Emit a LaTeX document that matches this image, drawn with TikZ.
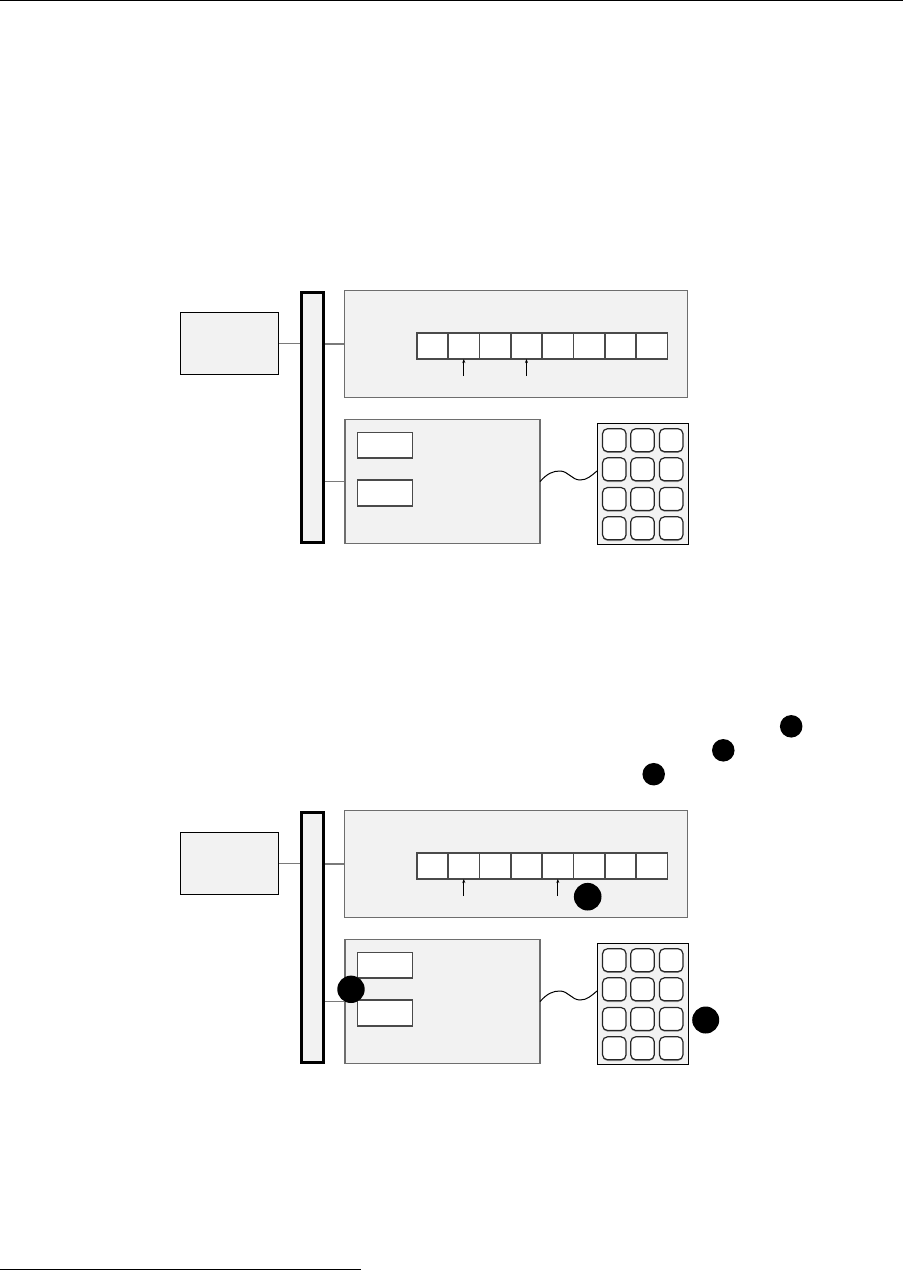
\documentclass[tikz,border=0pt]{standalone}
\usetikzlibrary{shadows,arrows.meta,backgrounds}
\definecolor{panel}{HTML}{F2F2F2}
\definecolor{edgegray}{HTML}{6E6E6E}
\definecolor{cellgray}{HTML}{4A4A4A}
\definecolor{wiregray}{HTML}{7A7A7A}
\tikzset{
  base/.style={inner sep=0pt, outer sep=0pt},
  cpubox/.style={base, draw=black, line width=1.1pt, fill=panel},
  busbar/.style={base, draw=black, line width=3pt, fill=panel},
  panelbox/.style={base, draw=edgegray, line width=1.4pt, fill=panel},
  cellbox/.style={base, draw=cellgray, line width=1.8pt, fill=white, minimum width=31.35pt, minimum height=26pt},
  slotbox/.style={base, draw=cellgray, line width=1.8pt, fill=white, minimum width=55pt, minimum height=25.5pt},
  padbox/.style={base, draw=black, line width=0.9pt, fill=panel},
  keybox/.style={base, draw=black!85, line width=1.2pt, fill=white, rounded corners=5pt,
    minimum width=23.5pt, minimum height=23pt,
    drop shadow={shadow xshift=0pt, shadow yshift=-1.2pt, fill=black, opacity=0.3}},
  wire/.style={draw=wiregray, line width=1.5pt},
  pointer/.style={-{Stealth[length=4pt,width=3pt]}, line width=0.9pt},
  wave/.style={line width=1pt},
  dot/.style={base, circle, fill=black},
}
\newcommand{\drawsystem}[1]{%
  \node[cpubox, minimum width=97.4pt, minimum height=61.7pt] (cpu) at (229.5,343.7) {};
  \node[busbar, minimum width=21.7pt, minimum height=250.5pt] (bus) at (312.3,417.7) {};
  \node[panelbox, minimum width=343.1pt, minimum height=106.8pt] (mem) at (515.8,344) {};
  \foreach \i in {0,...,7} \node[cellbox] (c\i) at (416.75+31.35*\i+15.675,346) {};
  \draw[pointer] ([yshift=-17pt]c1.south) -- (c1.south);
  \draw[pointer] ([yshift=-17pt]c#1.south) -- (c#1.south);
  \node[panelbox, minimum width=195.2pt, minimum height=123.8pt] (io) at (442.5,481.5) {};
  \node[slotbox] (s1) at (385,445.2) {};
  \node[slotbox] (s2) at (385,493) {};
  \node[padbox, minimum width=91pt, minimum height=120.4pt] (kp) at (642.6,483.9) {};
  \foreach \c/\x in {1/614.3,2/642.5,3/671.2}
    \foreach \r/\y in {1/440.2,2/469.3,3/499,4/528.3}
      \node[keybox] (k\r\c) at (\x,\y) {};
  \begin{pgfonlayer}{background}
    \draw[wire] (cpu.east) -- (cpu.east -| bus.west);
    \draw[wire] (bus.east |- mem.west) -- (mem.west);
    \draw[wire] (bus.east |- io.west) -- (io.west);
  \end{pgfonlayer}
  \draw[wave] (io.east) .. controls +(7,-8) and +(-7,0) .. (560,471)
    .. controls +(8,0) and +(-8,0) .. (580,480)
    .. controls +(7,0) and +(-6,5) .. ([yshift=13pt]kp.west);
}
\begin{document}
\begin{tikzpicture}[x=1pt,y=-1pt]
  \useasboundingbox (0,0) rectangle (903,1270);
  \draw[line width=1.2pt] (0,0.6) -- (903,0.6);
  \draw[line width=1pt] (0,1269.3) -- (361,1269.3);
  \begin{scope}[name prefix=A-]
    \drawsystem{3}
  \end{scope}
  \begin{scope}[name prefix=B-, shift={(0,520)}]
    \drawsystem{4}
    \node[dot, minimum size=27.6pt] (d4) at (587.7,376.7) {};
    \node[dot, minimum size=27.4pt] (d5) at (351,469.3) {};
    \node[dot, minimum size=27pt] (d6) at (705.7,500) {};
  \end{scope}
  \node[dot, minimum size=22.5pt] (d1) at (653.7,774.2) {};
  \node[dot, minimum size=22.5pt] (d2) at (723.3,750.3) {};
  \node[dot, minimum size=22.5pt] (d3) at (791.2,726.3) {};
\end{tikzpicture}
\end{document}
